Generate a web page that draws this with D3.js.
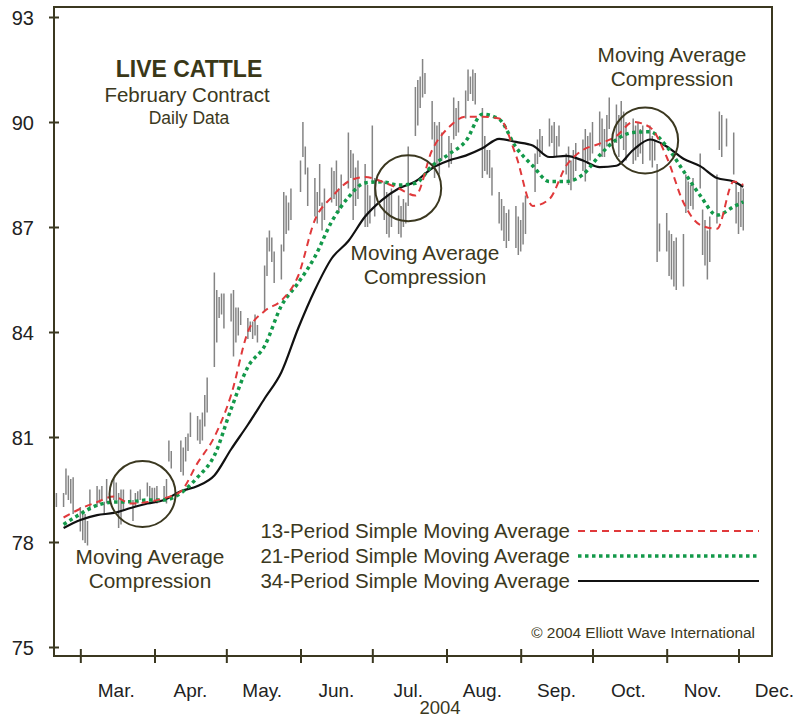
<!DOCTYPE html>
<html>
<head>
<meta charset="utf-8">
<script src="https://cdn.jsdelivr.net/npm/d3@7"></script>
<style>
  body { margin: 0; background: #fff; }
  text { font-family: "Liberation Sans", Arial, Helvetica, sans-serif; }
</style>
</head>
<body>
<svg id="chart"></svg>
<script>
// daily high / low, one row per week (holidays left out)
var highs = [
  79.3, 79.4,
  79.4, 80.1, 79.9, 79.8, 79.85,
  79.0, 78.9, 78.8, 78.6, 79.5,
  79.6, 79.5, 79.6, 79.15, 79.8,
  79.8, 79.7, 79.4, 79.5, 79.5,
  79.5, 79.2, 79.4, 79.45, 79.5,
  79.7, 79.6, 79.55, 79.55, 79.6,
  79.6, 79.8, 80.9, 80.6,
  80.9, 80.7, 81.0, 81.1, 81.7,
  81.6, 81.5, 81.7, 82.2, 82.7,
  85.7, 85.2, 85.0, 85.1, 85.1,
  85.1, 85.2, 84.7, 84.7, 84.6,
  84.4, 84.3, 84.3, 84.5, 84.2,
  85.9, 86.7, 86.9, 86.7, 86.3,
  86.5, 88.0, 87.9, 87.7, 88.1,
  88.9, 90.0, 89.3, 88.7,
  88.4, 88.0, 88.8, 87.7, 88.1,
  88.7, 88.6, 88.9, 88.1, 88.5,
  89.7, 89.2, 89.1, 88.7, 88.9,
  88.8, 88.2, 87.9, 89.9, 88.4,
  88.3, 88.0, 87.9, 88.1,
  87.9, 87.6, 87.8, 87.7, 89.3,
  91.0, 91.2, 91.3, 91.8, 91.4,
  90.6, 90.0, 89.9, 90.0, 89.7,
  89.6, 89.4, 90.7, 90.4, 90.6,
  90.9, 91.5, 91.3, 91.5, 91.4,
  90.4, 89.6, 89.2, 89.2, 88.7,
  88.0, 87.8, 87.6, 87.4, 87.5,
  87.6, 87.3, 87.2, 87.7, 87.9,
  89.1, 89.5, 89.8, 89.6,
  90.1, 89.9, 90.0, 89.6, 89.9,
  89.1, 89.3, 88.9, 89.2, 89.4,
  89.5, 89.8, 89.6, 89.7, 90.0,
  90.3, 90.1, 89.8, 90.2, 90.7,
  90.5, 90.2, 90.6, 90.3, 90.0,
  90.1, 89.9, 90.0, 89.8, 89.9,
  89.9, 89.6, 89.5, 88.8, 87.1,
  87.4, 86.9, 86.8, 86.6, 86.7,
  86.8, 88.5, 88.3, 88.2, 88.4,
  89.1, 87.5, 87.2, 86.9, 87.3,
  88.5, 90.3, 90.2, 90.1,
  89.7, 88.3, 88.0, 88.2, 88.1
];
var lows = [
  78.9, 79.0,
  79.0, 79.35, 79.2, 79.1, 78.8,
  78.3, 78.05, 77.97, 77.9, 78.9,
  79.0, 79.1, 79.2, 78.8, 79.1,
  79.2, 79.2, 78.4, 78.5, 78.9,
  79.2, 78.6, 79.0, 79.1, 79.2,
  79.3, 79.2, 79.15, 79.2, 79.1,
  79.2, 79.1, 80.3, 80.1,
  80.0, 79.9, 80.3, 80.6, 81.0,
  80.9, 80.8, 80.9, 81.3, 81.7,
  83.0, 83.7, 84.4, 84.5, 84.1,
  84.3, 83.3, 83.7, 83.9, 84.2,
  83.8, 84.0, 83.8, 83.9, 83.7,
  84.6, 85.6, 86.3, 86.0, 85.4,
  85.5, 86.3, 86.8, 86.9, 87.2,
  88.0, 89.0, 88.5, 87.6,
  87.3, 87.1, 87.6, 86.9, 87.2,
  87.7, 87.8, 87.6, 87.4, 87.6,
  88.1, 88.4, 87.2, 87.6, 87.8,
  87.0, 87.0, 87.1, 88.3, 87.3,
  87.2, 86.8, 86.7, 87.0,
  86.8, 86.7, 87.0, 87.1, 87.6,
  89.6, 89.9, 90.4, 90.7, 90.8,
  89.5, 88.4, 88.8, 88.5, 88.9,
  88.7, 88.8, 89.5, 89.6, 89.7,
  90.1, 90.6, 90.8, 90.6, 90.5,
  88.4, 88.6, 88.5, 88.4, 87.9,
  87.1, 86.9, 86.6, 86.4, 86.6,
  86.4, 86.2, 86.3, 86.5, 86.8,
  88.0, 88.8, 89.0, 89.1,
  89.3, 89.4, 89.0, 89.0, 89.3,
  88.5, 88.2, 88.05, 88.3, 88.6,
  88.6, 88.3, 88.8, 88.9, 89.1,
  89.3, 89.0, 89.0, 89.3, 89.8,
  89.4, 89.0, 89.6, 89.2, 88.9,
  88.8, 88.9, 89.0, 89.1, 88.8,
  88.9, 88.7, 88.9, 86.0, 86.3,
  86.3, 85.6, 85.5, 85.3, 85.2,
  85.3, 87.4, 87.5, 87.6, 87.5,
  88.1, 86.2, 85.9, 85.5, 86.0,
  87.1, 89.2, 89.0, 89.3,
  88.5, 87.1, 86.8, 87.0, 86.9
];
var holidays = ["2004-04-09", "2004-05-31", "2004-07-05", "2004-09-06", "2004-11-25"];

// moving averages
var maDates = ["2004-02-23","2004-03-01","2004-03-08","2004-03-15","2004-03-22","2004-03-29",
  "2004-04-05","2004-04-12","2004-04-19","2004-04-26","2004-05-03","2004-05-10","2004-05-17",
  "2004-05-24","2004-05-31","2004-06-07","2004-06-14","2004-06-21","2004-06-28","2004-07-05",
  "2004-07-12","2004-07-19","2004-07-26","2004-08-02","2004-08-09","2004-08-16","2004-08-23",
  "2004-08-30","2004-09-06","2004-09-13","2004-09-20","2004-09-27","2004-10-04","2004-10-11",
  "2004-10-18","2004-10-25","2004-11-01","2004-11-08","2004-11-15","2004-11-22","2004-11-29",
  "2004-12-03"];
var ma13 = [78.7, 78.95, 79.14, 79.3, 79.1, 79.14, 79.25, 79.45, 80.26, 81.0,
  82.2, 84.0, 84.6, 84.9, 85.6, 87.2, 87.85, 88.3, 88.43, 88.3,
  88.1, 87.9, 89.2, 89.85, 90.15, 90.15, 90.1, 89.05, 87.6, 87.8,
  88.75, 89.2, 89.38, 89.6, 90.0, 89.85, 89.0, 87.7, 87.06, 86.95,
  88.3, 88.2];
var ma21 = [78.5, 78.8, 79.05, 79.14, 79.15, 79.2, 79.2, 79.4, 79.85, 80.47,
  81.8, 83.0, 83.6, 84.75, 85.4, 86.15, 87.15, 87.85, 88.26, 88.29,
  88.2, 88.25, 88.75, 89.08, 89.45, 90.22, 90.08, 89.28, 88.75, 88.3,
  88.3, 88.5, 89.05, 89.5, 89.7, 89.72, 89.3, 88.6, 87.9, 87.34,
  87.58, 87.72];
var ma34 = [78.4, 78.63, 78.77, 78.83, 78.97, 79.1, 79.2, 79.45, 79.6, 79.9,
  80.65, 81.35, 82.1, 82.85, 84.1, 85.2, 86.1, 86.6, 87.3, 87.77,
  88.1, 88.3, 88.68, 88.9, 89.04, 89.25, 89.52, 89.43, 89.33, 89.0,
  89.03, 88.9, 88.71, 88.75, 89.2, 89.5, 89.3, 88.95, 88.74, 88.4,
  88.3, 88.15];

var yTicks = [75, 78, 81, 84, 87, 90, 93];
var monthNames = ["Mar.", "Apr.", "May.", "Jun.", "Jul.", "Aug.", "Sep.", "Oct.", "Nov.", "Dec."];

// circles: centre date, centre value
var circleDates = ["2004-03-27", "2004-07-16", "2004-10-23"];
var circleValues = [79.37, 88.11, 89.47];

var width = 811;
var height = 719;
var olive = "#3b3820";
var parse = d3.timeParse("%Y-%m-%d");

var x = d3.scaleTime()
    .domain([new Date(2004, 1, 19), new Date(2004, 11, 15)])
    .range([54, 772]);
var y = d3.scaleLinear().domain([75, 93]).range([647, 17]);

// trading days
var days = d3.timeDay.range(new Date(2004, 1, 19), new Date(2004, 11, 4))
    .filter(function(d) {
        var wd = d.getDay();
        return wd != 0 && wd != 6 && holidays.indexOf(d3.timeFormat("%Y-%m-%d")(d)) < 0;
    });

var bars = days.map(function(d, i) { return {date: d, high: highs[i], low: lows[i]}; });

var svg = d3.select("#chart")
    .attr("width", width)
    .attr("height", height);

svg.append("rect").attr("width", width).attr("height", height).attr("fill", "#fff");

// high-low bars
svg.append("g")
    .selectAll("line")
    .data(bars.filter(function(d) { return d.high != null; }))
    .enter()
    .append("line")
    .attr("x1", function(d) { return x(d.date); })
    .attr("x2", function(d) { return x(d.date); })
    .attr("y1", function(d) { return y(d.high); })
    .attr("y2", function(d) { return y(d.low); })
    .attr("stroke", "#848484")
    .attr("stroke-width", 1.5);

// moving averages
var line = d3.line()
    .x(function(d) { return x(d.date); })
    .y(function(d) { return y(d.v); })
    .curve(d3.curveMonotoneX);

function series(vals) {
    return maDates.map(function(s, i) { return {date: parse(s), v: vals[i]}; });
}

var styles = [
    {vals: ma34, color: "#111", w: 2.2, dash: null},
    {vals: ma21, color: "#13994a", w: 3.5, dash: "3.5,3.5"},
    {vals: ma13, color: "#e0393b", w: 2, dash: "7,5"}
];
styles.forEach(function(s) {
    svg.append("path")
        .datum(series(s.vals))
        .attr("d", line)
        .attr("fill", "none")
        .attr("stroke", s.color)
        .attr("stroke-width", s.w)
        .attr("stroke-dasharray", s.dash);
});

// compression circles
svg.append("g")
    .selectAll("circle")
    .data(circleDates)
    .enter()
    .append("circle")
    .attr("cx", function(d) { return x(parse(d)); })
    .attr("cy", function(d, i) { return y(circleValues[i]); })
    .attr("r", 33)
    .attr("fill", "none")
    .attr("stroke", olive)
    .attr("stroke-width", 2);

// frame
svg.append("rect")
    .attr("x", 54).attr("y", 7)
    .attr("width", 718).attr("height", 649)
    .attr("fill", "none")
    .attr("stroke", olive)
    .attr("stroke-width", 2);

// y axis
var yAxis = svg.append("g")
    .attr("transform", "translate(54,0)")
    .call(d3.axisLeft(y).tickValues(yTicks).tickSize(5).tickFormat(d3.format("d")));
yAxis.select(".domain").remove();
yAxis.selectAll(".tick line").attr("x1", 5).attr("x2", -5).attr("stroke", olive).attr("stroke-width", 2);
yAxis.selectAll(".tick text")
    .attr("x", -20)
    .attr("dy", "0.36em")
    .style("font-size", "20px")
    .style("font-family", "'Liberation Sans', Arial, sans-serif")
    .attr("fill", "#222");

// x axis: month starts as ticks, names at mid month
var monthStarts = d3.timeMonth.range(new Date(2004, 2, 1), new Date(2004, 11, 2));
var xAxis = svg.append("g")
    .attr("transform", "translate(0,656)")
    .call(d3.axisBottom(x).tickValues(monthStarts).tickSize(6).tickFormat(""));
xAxis.select(".domain").remove();
xAxis.selectAll(".tick line").attr("y1", -7).attr("y2", 7).attr("stroke", olive).attr("stroke-width", 2);

svg.append("g")
    .selectAll("text")
    .data(monthStarts)
    .enter()
    .append("text")
    .attr("x", function(d) { return x(d3.timeDay.offset(d, 15)); })
    .attr("y", 697)
    .attr("text-anchor", "middle")
    .style("font-size", "19px")
    .attr("fill", "#222")
    .text(function(d, i) { return monthNames[i]; });

svg.append("text")
    .attr("x", 440).attr("y", 714)
    .attr("text-anchor", "middle")
    .style("font-size", "18.5px")
    .attr("fill", olive)
    .text("2004");

// title block
svg.append("text").attr("x", 189).attr("y", 77).attr("text-anchor", "middle")
    .style("font-size", "23px").style("font-weight", "bold").attr("fill", "#3a3818")
    .text("LIVE CATTLE");
svg.append("text").attr("x", 187).attr("y", 102).attr("text-anchor", "middle")
    .style("font-size", "20.5px").attr("fill", olive)
    .text("February Contract");
svg.append("text").attr("x", 189).attr("y", 124).attr("text-anchor", "middle")
    .style("font-size", "17.5px").attr("fill", olive)
    .text("Daily Data");

// annotations
var notes = [[150, 564], [425, 260], [672, 62]];
notes.forEach(function(n) {
    svg.append("text").attr("x", n[0]).attr("y", n[1]).attr("text-anchor", "middle")
        .style("font-size", "20.8px").attr("fill", olive).text("Moving Average");
    svg.append("text").attr("x", n[0]).attr("y", n[1] + 24).attr("text-anchor", "middle")
        .style("font-size", "20.8px").attr("fill", olive).text("Compression");
});

// legend
var legendNames = ["13-Period Simple Moving Average", "21-Period Simple Moving Average", "34-Period Simple Moving Average"];
var legendStyles = [styles[2], styles[1], styles[0]];
legendNames.forEach(function(name, i) {
    var ly = 531 + i * 25;
    svg.append("text").attr("x", 570).attr("y", ly + 7).attr("text-anchor", "end")
        .style("font-size", "20.5px").attr("fill", olive).text(name);
    svg.append("line").attr("x1", 578).attr("x2", 759).attr("y1", ly).attr("y2", ly)
        .attr("stroke", legendStyles[i].color)
        .attr("stroke-width", legendStyles[i].w)
        .attr("stroke-dasharray", legendStyles[i].dash);
});

svg.append("text").attr("x", 755).attr("y", 638).attr("text-anchor", "end")
    .style("font-size", "15.4px").attr("fill", olive)
    .text("\u00a9 2004 Elliott Wave International");
</script>
</body>
</html>
